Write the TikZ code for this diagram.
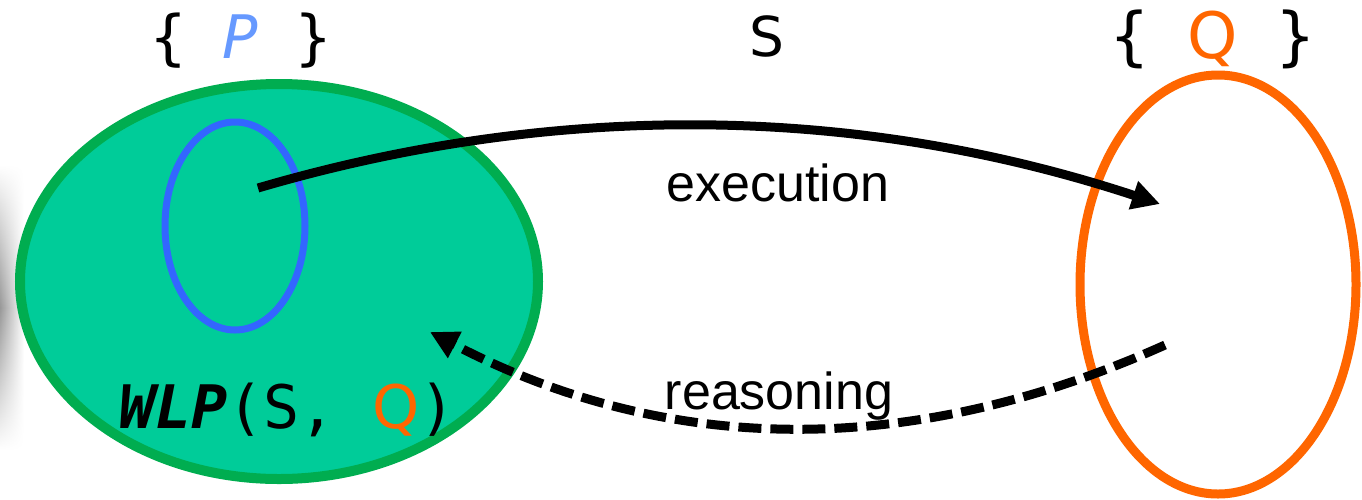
\documentclass[tikz,border=0pt]{standalone}
\usepackage{fontspec}
\usetikzlibrary{shapes.geometric,arrows.meta,fadings}
\newfontfamily\monofont{DejaVu Sans Mono}
\newfontfamily\arialfont{Liberation Sans}
\newfontfamily\dsansfont{DejaVu Sans}
\definecolor{greenfill}{HTML}{00CC99}
\definecolor{greenline}{HTML}{00AD50}
\definecolor{blueline}{HTML}{3366FF}
\definecolor{bluetext}{HTML}{6699FF}
\definecolor{orangeQ}{HTML}{FF6600}
\tikzfading[name=vfade, top color=transparent!100, bottom color=transparent!100, middle color=transparent!0]
\tikzset{
  setshape/.style={ellipse, inner sep=0pt, outer sep=0pt},
  execarrow/.style={line width=9pt, -{Triangle[length=28pt,width=28pt]}},
  reasonarrow/.style={line width=9pt, dash pattern=on 23pt off 9pt, -{Triangle[length=28pt,width=28pt]}},
  monotext/.style={font=\monofont\fontsize{60}{60}\selectfont, inner sep=0pt},
  labeltext/.style={font=\arialfont\fontsize{52}{52}\selectfont, inner sep=0pt, anchor=base},
}
\newcommand{\sansQ}{{\dsansfont Q}}
\begin{document}
\begin{tikzpicture}[x=1pt,y=-1pt]
\useasboundingbox (0,0) rectangle (1362,499);
% faint shadow at left edge
\shade[left color=black!40, right color=white, path fading=vfade] (0,165) rectangle (24,450);
% sets
\node[setshape, draw=greenline, fill=greenfill, line width=10pt,
      minimum width=518pt, minimum height=395pt] (wlp) at (279,281.5) {};
\node[setshape, draw=blueline, line width=7pt,
      minimum width=140pt, minimum height=208pt] (pset) at (235,226) {};
\node[setshape, draw=orangeQ, line width=9pt,
      minimum width=276pt, minimum height=419pt] (qset) at (1218,284.5) {};
% top labels
\node[monotext, anchor=base] (pre) at (241,58) {\{ \textcolor{bluetext}{\textit{P}} \}};
\node[font=\dsansfont\fontsize{55}{55}\selectfont, inner sep=0pt, anchor=base] (stmt) at (767,56) {S};
\node[monotext, anchor=base, font=\monofont\fontsize{64}{64}\selectfont] (post) at (1213,58) {\{ \textcolor{orangeQ}{\sansQ} \}};
% WLP label
\node[monotext, anchor=base west] (wlplabel) at (119,428) {\textbf{\textit{WLP}}(S, \textcolor{orangeQ}{\sansQ})};
% arrow endpoints
\coordinate (pstart) at (258,188);
\coordinate (qend) at (1160,204);
\coordinate (qstart) at (1165,345);
\coordinate (wend) at (430,332);
% arrows
\draw[execarrow] (pstart) .. controls (558,100) and (860,105) .. (qend);
\draw[reasonarrow] (qstart) .. controls (920,455) and (675,460) .. (wend);
% arrow labels
\node[labeltext] (exec) at (778,201) {execution};
\node[labeltext] (reason) at (779,409) {reasoning};
\end{tikzpicture}
\end{document}
